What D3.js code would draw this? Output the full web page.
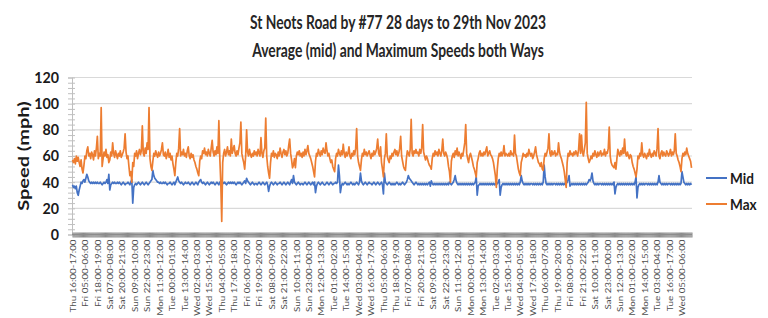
<!DOCTYPE html>
<html>
<head>
<meta charset="utf-8">
<script src="https://cdn.jsdelivr.net/npm/d3@7"></script>
<style>
  body { margin: 0; background: #fff; }
  svg { font-family: Lato, "Open Sans", sans-serif; }
</style>
</head>
<body>
<svg id="chart"></svg>
<script>
// hourly readings, one row per day starting Thu 16:00
const midSpeed = [
  38,36,37,35,37,32,30,34,37,40,39,41,42,40,43,46,44,41,40,39,40,39,40,39,
  40,39,40,39,39,40,39,38,39,40,39,40,42,39,46,34,38,39,40,39,40,39,39,40,
  39,40,39,38,39,40,39,38,39,39,40,39,38,40,42,24,36,38,39,38,39,40,39,38,
  39,40,39,38,39,40,39,38,39,40,41,42,49,45,43,42,41,40,40,39,40,39,39,40,
  39,40,39,38,39,39,40,39,38,39,40,38,40,42,44,41,40,39,40,39,38,39,40,39,
  39,40,39,38,39,40,39,38,39,40,39,38,40,41,42,40,39,40,39,38,39,40,39,38,
  39,40,39,40,39,38,39,40,39,38,40,39,41,40,39,40,39,38,39,40,39,40,39,40,
  39,40,39,38,39,40,39,40,39,38,39,40,41,39,43,41,40,39,38,39,40,39,38,39,
  39,38,39,40,39,38,39,40,39,38,39,40,38,33,37,39,40,39,38,39,40,39,38,39,
  39,40,39,38,39,40,39,38,39,40,39,38,40,42,39,45,40,39,38,39,40,39,38,39,
  39,38,39,40,39,38,39,40,39,38,39,40,38,40,32,37,39,40,39,38,39,40,39,38,
  38,39,40,39,38,39,40,39,38,39,39,40,39,40,53,45,32,37,39,38,39,40,39,38,
  39,38,39,40,39,38,39,38,39,40,39,38,40,47,41,39,38,39,40,39,38,39,40,39,
  39,38,39,40,39,38,39,40,39,38,39,40,38,31,47,40,39,38,39,40,39,38,39,38,
  39,38,39,40,39,38,39,38,39,40,39,38,39,40,42,45,43,42,41,40,39,38,39,40,
  39,38,39,38,39,38,39,38,39,38,39,38,39,40,37,41,39,38,39,38,39,38,39,38,
  39,38,39,38,39,38,39,38,39,38,40,39,38,39,40,42,45,41,39,38,39,38,39,38,
  39,38,39,38,39,38,39,38,39,38,39,38,39,40,44,30,37,38,39,38,39,38,39,38,
  39,38,39,38,39,38,39,38,39,38,39,38,39,40,42,30,36,38,39,38,39,38,39,38,
  39,38,39,38,39,38,39,38,39,38,39,38,40,45,41,39,38,39,38,39,38,39,38,39,
  39,38,39,38,39,38,39,38,39,38,39,38,40,53,44,39,38,39,38,39,38,39,38,39,
  39,38,39,38,39,38,39,38,39,38,39,38,39,40,42,45,37,38,39,38,39,38,39,38,
  39,38,39,38,39,38,39,38,39,38,39,40,42,41,43,47,41,39,38,39,38,39,38,39,
  39,38,39,38,39,38,39,38,39,38,39,38,39,38,40,31,36,38,39,38,39,38,39,38,
  39,38,39,38,39,38,39,38,39,38,39,38,40,44,28,36,38,39,38,39,38,39,38,39,
  39,38,39,38,39,38,39,38,39,38,39,38,40,45,40,39,38,39,38,39,38,39,38,39,
  39,38,39,38,39,38,39,38,39,38,39,38,39,48,44,40,39,38,39,38,39,38,39,38
];

const maxSpeed = [
  57,55,58,54,60,56,59,55,52,57,50,47,53,60,58,64,67,60,62,58,63,61,57,64,
  60,66,75,58,62,60,97,52,58,63,60,65,59,61,55,57,63,60,70,62,59,64,61,58,
  62,60,64,59,61,63,66,77,63,58,60,52,45,48,40,55,52,62,60,64,58,62,65,61,
  64,83,62,60,66,62,70,65,97,58,52,49,56,62,60,64,61,59,63,60,62,65,70,61,
  60,63,58,61,65,59,62,57,60,54,50,45,55,62,60,66,81,60,63,61,65,60,62,59,
  64,67,60,58,62,59,61,57,55,52,50,47,45,56,60,58,64,62,66,61,63,60,65,62,
  60,66,72,63,60,64,61,67,62,87,58,40,10,55,62,65,60,63,67,61,64,60,73,62,
  65,68,62,60,64,61,66,70,86,62,58,55,50,60,80,63,60,65,61,59,62,60,64,61,
  63,60,65,62,60,74,62,59,64,66,89,60,52,47,43,55,62,60,64,59,62,61,58,63,
  60,66,62,59,63,65,61,64,60,62,68,73,62,57,51,53,58,51,60,63,61,64,60,62,
  59,63,60,65,61,64,68,62,60,58,55,52,48,44,56,62,60,65,62,60,64,61,66,63,
  62,70,64,60,62,58,55,57,52,50,48,58,62,60,65,62,60,64,61,69,62,59,63,60,
  62,67,60,58,62,60,64,61,66,81,60,55,52,49,57,62,60,65,61,63,60,62,64,61,
  58,62,60,64,61,63,66,73,62,60,67,55,50,44,58,62,77,60,57,55,60,58,62,60,
  63,65,61,64,60,62,66,75,60,56,52,50,49,58,64,62,60,65,88,62,60,64,62,65,
  62,63,60,65,62,66,84,63,60,57,60,58,55,53,52,50,58,62,60,64,61,63,60,65,
  62,60,64,73,62,60,63,61,58,52,48,40,56,60,62,59,64,61,66,60,63,61,58,62,
  60,65,70,84,62,58,55,60,62,59,56,52,50,47,44,55,58,62,64,60,62,60,63,61,
  64,67,60,62,64,61,60,58,55,50,45,36,50,58,62,60,63,60,62,68,60,62,61,60,
  62,60,64,61,62,60,76,62,60,55,50,47,45,55,58,62,60,61,59,62,60,65,62,60,
  62,58,60,63,67,61,58,55,54,52,55,50,49,58,62,60,63,66,77,62,60,64,61,62,
  64,60,62,61,70,63,60,58,55,52,48,42,36,55,62,60,64,61,62,60,63,61,64,62,
  60,65,77,62,76,63,60,65,70,101,62,58,55,57,60,58,62,60,64,61,59,63,60,62,
  64,60,62,61,65,60,63,62,66,82,60,55,53,52,51,55,50,58,65,62,60,64,61,66,
  62,73,62,60,63,60,58,61,60,55,52,50,47,44,50,60,58,62,60,70,61,59,62,60,
  58,62,60,65,61,59,62,60,64,62,60,66,81,60,58,62,64,60,63,61,60,64,62,60,
  62,65,60,63,61,64,77,62,60,57,55,52,48,58,62,60,63,61,66,62,60,58,56,51
];

const dayNames = ['Sun', 'Mon', 'Tue', 'Wed', 'Thu', 'Fri', 'Sat'];
const startDay = 4;   // Thu
const startHour = 16;
const labelEvery = 13;
const yTicks = [0, 20, 40, 60, 80, 100, 120];
const seriesNames = ['Mid', 'Max'];
const seriesColors = ['#4472C4', '#ED7D31'];

function hh(h) { return String(h).padStart(2, '0') + ':00'; }

const categories = midSpeed.map((d, i) => {
    const h = (startHour + i) % 24;
    const day = dayNames[(startDay + Math.floor((startHour + i) / 24)) % 7];
    return `${day} ${hh(h)}-${hh((h + 1) % 24)}`;
});
const hours = d3.range(categories.length);
const labelHours = hours.filter(i => i % labelEvery === 0);

const width = 768, height = 318;
const plot = { left: 72, right: 692, top: 77.5, bottom: 234.5 };
// the source picture is squeezed sideways, so text is narrowed to match
const squeeze = 0.78;

const svg = d3.select('#chart')
    .attr('width', width)
    .attr('height', height);

const xScale = d3.scalePoint()
    .domain(hours)
    .range([plot.left, plot.right])
    .padding(0.5);

const yScale = d3.scaleLinear()
    .domain([0, 120])
    .range([plot.bottom, plot.top]);

// title
['St Neots Road by #77 28 days to 29th Nov 2023',
 'Average (mid) and Maximum Speeds both Ways'].forEach((t, i) => {
    svg.append('text')
        .attr('transform', `translate(398,${29 + i * 28}) scale(0.71,1)`)
        .attr('text-anchor', 'middle')
        .attr('font-size', 19.5).attr('font-weight', 'bold').attr('fill', '#262626')
        .text(t);
});

// gridlines
svg.append('g')
    .selectAll('line')
    .data(yTicks.filter(d => d > 0))
    .enter()
    .append('line')
        .attr('x1', plot.left).attr('x2', plot.right)
        .attr('y1', d => yScale(d)).attr('y2', d => yScale(d))
        .attr('stroke', '#d9d9d9').attr('stroke-width', 1.2);

// y axis with minor ticks
const yAxis = svg.append('g')
    .attr('class', 'y-axis')
    .attr('transform', `translate(${plot.left},0)`)
    .call(d3.axisLeft(yScale).tickValues(d3.range(0, 121, 4)).tickSize(4).tickFormat(''));
yAxis.select('.domain').attr('stroke', '#bfbfbf');
yAxis.selectAll('.tick line').attr('stroke', '#bfbfbf').attr('x2', 3).attr('x1', -4);

svg.append('g')
    .selectAll('text')
    .data(yTicks)
    .enter()
    .append('text')
        .attr('transform', d => `translate(59,${yScale(d)}) scale(0.92,1)`)
        .attr('dy', '0.35em')
        .attr('text-anchor', 'end')
        .attr('font-size', 15.5).attr('font-weight', 'bold').attr('fill', '#1a1a1a')
        .text(d => d);

svg.append('text')
    .attr('transform', `translate(29,${(plot.top + plot.bottom) / 2}) scale(${squeeze},1) rotate(-90)`)
    .attr('text-anchor', 'middle')
    .attr('font-size', 20).attr('font-weight', 'bold').attr('fill', '#1a1a1a')
    .text('Speed (mph)');

// x axis: one tick per hour gives the dense grey band
const xTicks = svg.append('g')
    .attr('class', 'x-ticks')
    .attr('transform', `translate(0,${plot.bottom - 2})`)
    .call(d3.axisBottom(xScale).tickSize(5).tickFormat(''));
xTicks.select('.domain').remove();
xTicks.selectAll('.tick line').attr('stroke', '#8c8c8c');

svg.append('line')
    .attr('x1', plot.left).attr('x2', plot.right)
    .attr('y1', plot.bottom).attr('y2', plot.bottom)
    .attr('stroke', '#8c8c8c');

const xLabels = svg.append('g')
    .attr('class', 'x-labels')
    .attr('transform', `translate(0,${plot.bottom})`)
    .call(d3.axisBottom(xScale).tickValues(labelHours).tickSize(0).tickFormat(i => categories[i]));
xLabels.select('.domain').remove();
xLabels.selectAll('text')
    .attr('transform', `scale(${squeeze},1) rotate(-90)`)
    .attr('x', -5).attr('y', 0).attr('dy', '0.35em')
    .style('text-anchor', 'end')
    .attr('font-family', 'Lato, sans-serif')
    .attr('font-size', 9.8)
    .attr('fill', '#4d4d4d');

// lines
const line = d3.line()
    .x((d, i) => xScale(i))
    .y(d => yScale(d));

[midSpeed, maxSpeed].forEach((series, k) => {
    svg.append('path')
        .datum(series)
        .attr('fill', 'none')
        .attr('stroke', seriesColors[k])
        .attr('stroke-width', 1.7)
        .attr('stroke-linejoin', 'round')
        .attr('d', line);
});

// legend
const legend = svg.append('g')
    .selectAll('g')
    .data(seriesNames)
    .enter()
    .append('g')
        .attr('transform', (d, i) => `translate(706,${178 + i * 26})`);
legend.append('line')
    .attr('x1', 0).attr('x2', 21)
    .attr('stroke', (d, i) => seriesColors[i])
    .attr('stroke-width', 2);
legend.append('text')
    .attr('transform', `translate(24,0) scale(0.85,1)`)
    .attr('dy', '0.35em')
    .attr('font-size', 16).attr('font-weight', 'bold').attr('fill', '#1a1a1a')
    .text(d => d);
</script>
</body>
</html>
